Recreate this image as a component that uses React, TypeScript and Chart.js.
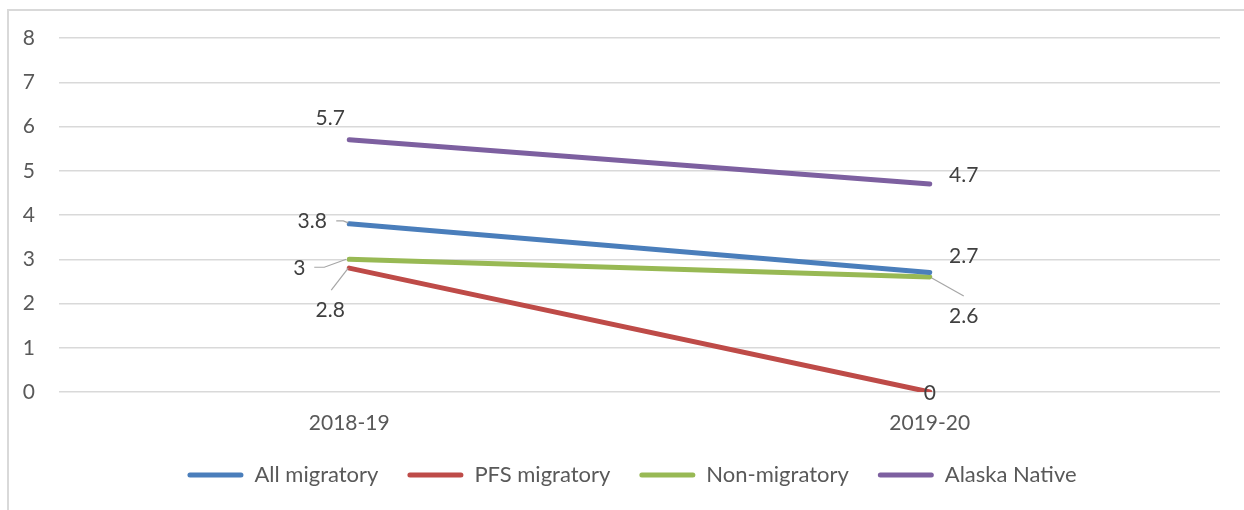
import React, { useEffect, useRef } from "react";
import { Chart, registerables } from "chart.js";

Chart.register(...registerables);

const categories = ["2018-19", "2019-20"];
const seriesNames = ["All migratory", "PFS migratory", "Non-migratory", "Alaska Native"];
const allMigratory = [3.8, 2.7];
const pfsMigratory = [2.8, 0];
const nonMigratory = [3, 2.6];
const alaskaNative = [5.7, 4.7];
const yTicks = [0, 1, 2, 3, 4, 5, 6, 7, 8];

const colors = ["#4A7EBB", "#BE4B48", "#98B954", "#7D60A0"];

// label placement (pixel offsets from the point) and optional leader lines
const labelLayout: { dx: number; dy: number; leader?: [number, number][] }[][] = [
  [
    { dx: -37, dy: -3, leader: [[-13, -3], [-6, -3], [-1, -1]] },
    { dx: 34, dy: -16 },
  ],
  [
    { dx: -19, dy: 42, leader: [[-18, 22], [-1, 0]] },
    { dx: 0, dy: 1 },
  ],
  [
    { dx: -50, dy: 9, leader: [[-35, 8], [-25, 8], [-3, 0]] },
    { dx: 34, dy: 39, leader: [[2, 1], [34, 19]] },
  ],
  [
    { dx: -19, dy: -22 },
    { dx: 34, dy: -9 },
  ],
];

const FONT = "Lato";

const dataLabelPlugin = {
  id: "dataLabels",
  afterDatasetsDraw(chart: any) {
    const ctx = chart.ctx;
    ctx.save();
    chart.data.datasets.forEach((ds: any, di: number) => {
      const meta = chart.getDatasetMeta(di);
      meta.data.forEach((pt: any, i: number) => {
        const lay = labelLayout[di][i];
        if (lay.leader) {
          ctx.beginPath();
          ctx.strokeStyle = "#A6A6A6";
          ctx.lineWidth = 1.2;
          lay.leader.forEach(([lx, ly], k) => {
            if (k === 0) ctx.moveTo(pt.x + lx, pt.y + ly);
            else ctx.lineTo(pt.x + lx, pt.y + ly);
          });
          ctx.stroke();
        }
        ctx.font = `21px ${FONT}`;
        ctx.fillStyle = "#404040";
        ctx.textAlign = "center";
        ctx.textBaseline = "middle";
        ctx.fillText(String(ds.data[i]), pt.x + lay.dx, pt.y + lay.dy);
      });
    });
    ctx.restore();
  },
};

// nudge the legend so it is centred like the reference
const legendShiftPlugin = {
  id: "legendShift",
  afterLayout(chart: any) {
    const lg = chart.legend;
    if (lg) {
      lg.left += 22;
      lg.right += 22;
    }
  },
};

export default function App() {
  const ref = useRef<HTMLCanvasElement>(null);
  useEffect(() => {
    if (!ref.current) return;
    const seriesData = [allMigratory, pfsMigratory, nonMigratory, alaskaNative];
    const chart = new Chart(ref.current, {
      type: "line",
      data: {
        labels: categories,
        datasets: seriesNames.map((name, i) => ({
          label: name,
          data: seriesData[i],
          borderColor: colors[i],
          backgroundColor: colors[i],
          borderWidth: 5,
          borderCapStyle: "round",
          pointRadius: 0,
          pointHoverRadius: 0,
          fill: false,
          tension: 0,
        })),
      },
      options: {
        responsive: false,
        animation: false,
        events: [],
        layout: { padding: { top: 38, right: 24, left: 0, bottom: 14 } },
        scales: {
          x: {
            type: "category",
            offset: true,
            grid: { display: false, drawTicks: false },
            border: { display: false },
            ticks: {
              padding: 19,
              color: "#595959",
              font: { family: FONT, size: 21 },
            },
            afterFit: (s: any) => {
              s.height = 43;
            },
          },
          y: {
            min: 0,
            max: 8,
            afterBuildTicks: (s: any) => {
              s.ticks = yTicks.map((v) => ({ value: v }));
            },
            grid: { color: "#D9D9D9", lineWidth: 1.5, drawTicks: false },
            border: { display: false },
            ticks: {
              padding: 24,
              color: "#595959",
              font: { family: FONT, size: 21 },
            },
            afterFit: (s: any) => {
              s.width = 59;
            },
          },
        },
        plugins: {
          legend: {
            position: "bottom",
            labels: {
              boxWidth: 56,
              boxHeight: 5,
              padding: 29,
              color: "#595959",
              font: { family: FONT, size: 22 },
              generateLabels: (c: any) =>
                c.data.datasets.map((ds: any, i: number) => ({
                  text: ds.label,
                  fillStyle: colors[i],
                  strokeStyle: colors[i],
                  lineWidth: 0,
                  borderRadius: 2.5,
                  fontColor: "#595959",
                  datasetIndex: i,
                  hidden: false,
                })),
            },
          },
          tooltip: { enabled: false },
        },
      },
      plugins: [dataLabelPlugin, legendShiftPlugin],
    } as any);
    return () => chart.destroy();
  }, []);

  return (
    <div
      style={{
        position: "absolute",
        left: 0,
        top: 0,
        width: 1244,
        height: 510,
        background: "#fff",
      }}
    >
      <canvas
        ref={ref}
        width={1244}
        height={510}
        style={{ position: "absolute", left: 0, top: 0, width: 1244, height: 510 }}
      />
      <div
        style={{
          position: "absolute",
          left: 7,
          top: 9,
          right: 0,
          bottom: 0,
          borderTop: "2px solid #D9D9D9",
          borderLeft: "2px solid #D9D9D9",
          pointerEvents: "none",
        }}
      />
    </div>
  );
}
